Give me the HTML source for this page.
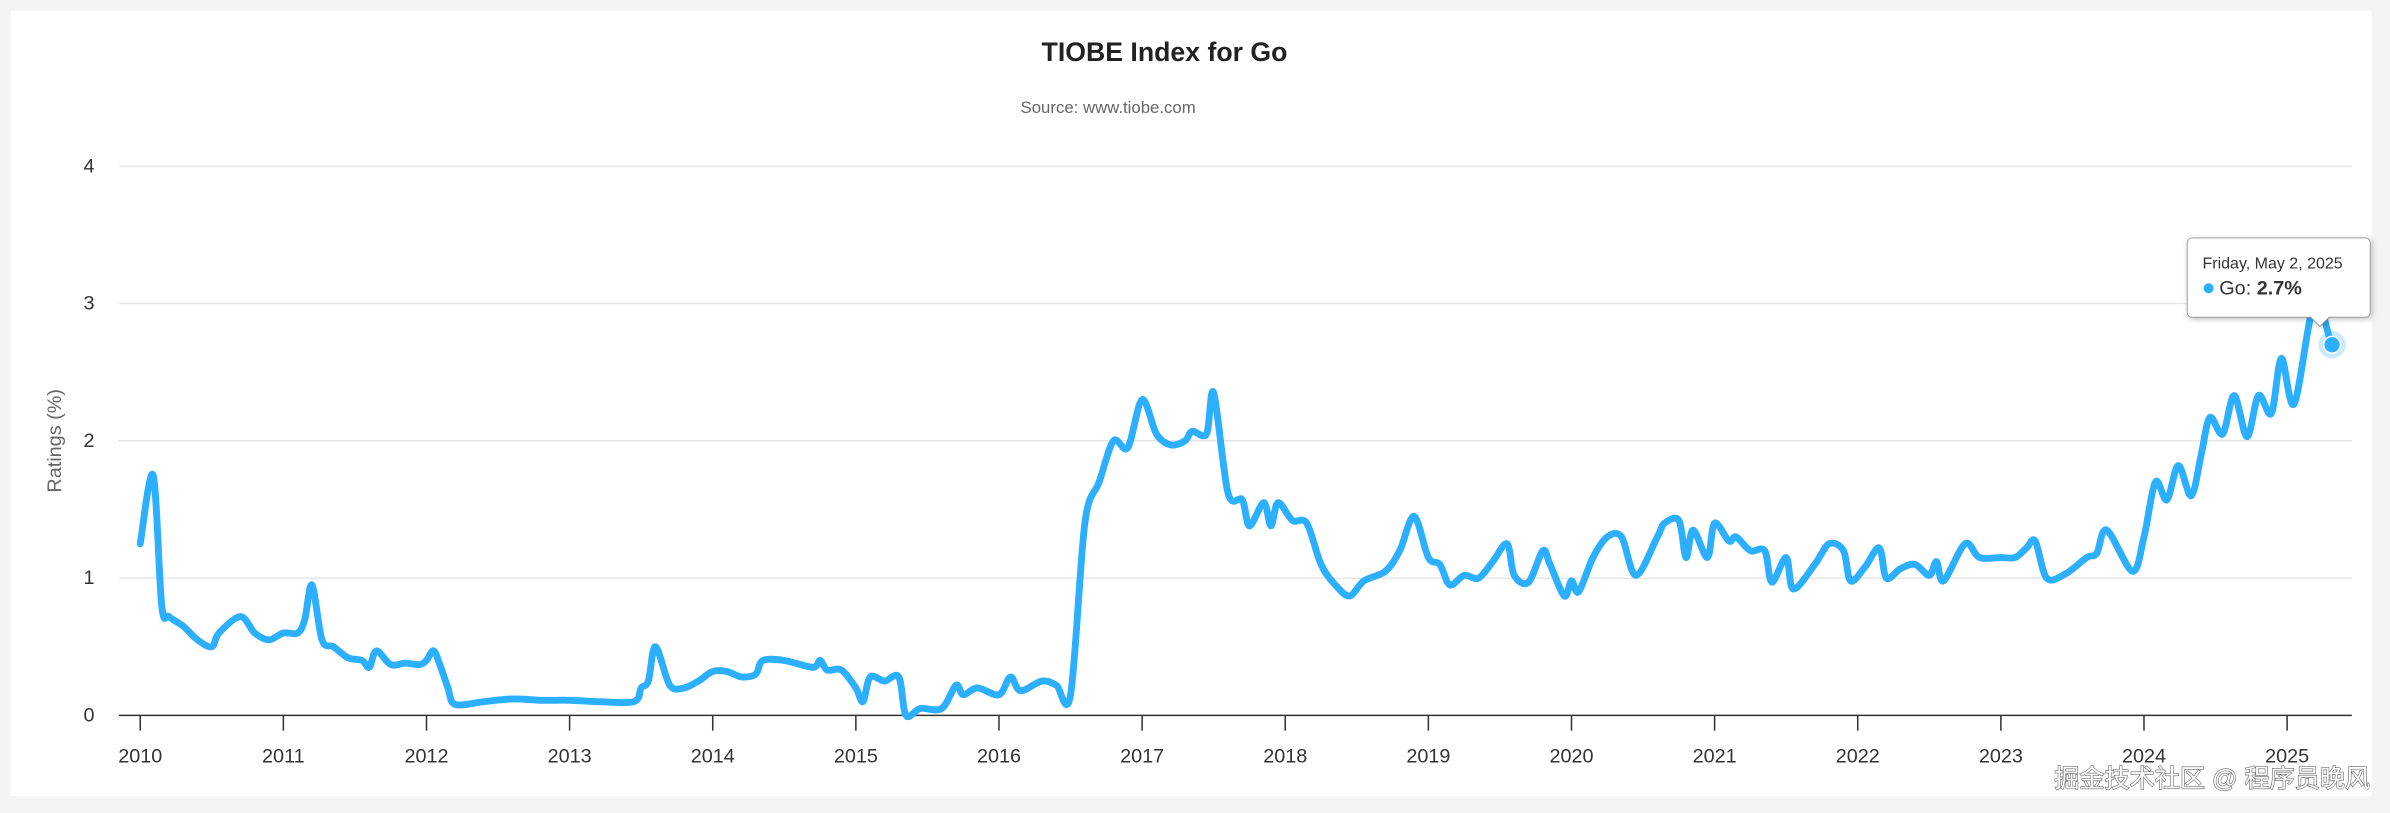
<!DOCTYPE html>
<html><head><meta charset="utf-8">
<style>
html,body{margin:0;padding:0;background:#f4f4f4;width:2390px;height:813px;overflow:hidden;}
svg{display:block;}
text{font-family:"Liberation Sans","Noto Sans CJK SC",sans-serif;}
</style></head>
<body>
<svg id="s" width="2390" height="813" viewBox="0 0 1568 533" preserveAspectRatio="none" xmlns="http://www.w3.org/2000/svg">
<rect x="0" y="0" width="1568" height="533" fill="#f4f4f4"/>
<rect x="7" y="7" width="1549" height="515" fill="#ffffff"/>
<text x="764" y="40" text-anchor="middle" font-size="17.5" font-weight="bold" fill="#222">TIOBE Index for Go</text>
<text x="727" y="74" text-anchor="middle" font-size="11" fill="#666">Source: www.tiobe.com</text>
<g stroke="#e6e6e6" stroke-width="1">
<line x1="78" x2="1543" y1="109" y2="109"/>
<line x1="78" x2="1543" y1="199" y2="199"/>
<line x1="78" x2="1543" y1="289" y2="289"/>
<line x1="78" x2="1543" y1="379" y2="379"/>
</g>
<line x1="78" x2="1543" y1="469" y2="469" stroke="#333" stroke-width="1"/>
<g font-size="13" fill="#333" text-anchor="end">
<text x="62" y="113">4</text><text x="62" y="203">3</text><text x="62" y="293">2</text><text x="62" y="383">1</text><text x="62" y="473">0</text>
</g>
<text transform="translate(40,289) rotate(-90)" text-anchor="middle" font-size="13" fill="#666">Ratings (%)</text>
<g id="ticks"></g>
<path id="line" fill="none" stroke="#2caffe" stroke-width="4.5" stroke-linejoin="round" stroke-linecap="round"/>
<circle cx="1530" cy="226" r="9" fill="#2caffe" opacity="0.25"/>
<circle cx="1530" cy="226" r="5.5" fill="#2caffe" stroke="#fff" stroke-width="1"/>
<path d="M1438,156 h114 a3,3 0 0 1 3,3 v46 a3,3 0 0 1 -3,3 h-24 l-6,6 l-6,-6 h-78 a3,3 0 0 1 -3,-3 v-46 a3,3 0 0 1 3,-3z" fill="#fff" stroke="#999" stroke-width="0.6" style="filter:drop-shadow(1px 1px 2px rgba(0,0,0,0.25))"/>
<text x="1445" y="176" font-size="10.5" fill="#333">Friday, May 2, 2025</text>
<circle cx="1449" cy="189" r="3.3" fill="#2caffe"/>
<text x="1456" y="193" font-size="13" fill="#333">Go: <tspan font-weight="bold">2.7%</tspan></text>
<text x="1555" y="516" text-anchor="end" font-size="16.5" fill="#fff" stroke="#666" stroke-width="0.8" paint-order="stroke">掘金技术社区 @ 程序员晚风</text>
</svg>
<script>
var X=function(t){return 92+93.9*(t-2010);},Y=function(v){return 469-90*v;};
var g=document.getElementById('ticks'),h='';
for(var y=2010;y<=2025;y++){var x=X(y);h+='<line x1="'+x+'" x2="'+x+'" y1="469" y2="479" stroke="#333" stroke-width="1"/><text x="'+x+'" y="500" text-anchor="middle" font-size="13" fill="#333">'+y+'</text>';}
g.innerHTML=h;
var d=[2010,1.25,2010.09,1.75,2010.15,0.8,2010.2,0.72,2010.3,0.65,2010.4,0.55,2010.5,0.5,2010.55,0.6,2010.7,0.72,2010.8,0.6,2010.9,0.55,2011,0.6,2011.1,0.6,2011.15,0.7,2011.2,0.95,2011.27,0.55,2011.35,0.5,2011.45,0.42,2011.55,0.4,2011.6,0.35,2011.65,0.47,2011.75,0.37,2011.85,0.38,2011.95,0.37,2012,0.4,2012.05,0.47,2012.1,0.35,2012.15,0.2,2012.2,0.08,2012.4,0.1,2012.6,0.12,2012.8,0.11,2013,0.11,2013.2,0.1,2013.45,0.1,2013.5,0.2,2013.55,0.25,2013.6,0.5,2013.7,0.22,2013.8,0.2,2013.9,0.25,2014,0.32,2014.1,0.32,2014.2,0.28,2014.3,0.3,2014.35,0.4,2014.5,0.4,2014.7,0.35,2014.75,0.4,2014.8,0.33,2014.9,0.33,2015,0.2,2015.05,0.1,2015.1,0.28,2015.2,0.25,2015.3,0.28,2015.35,0.0,2015.45,0.05,2015.6,0.05,2015.7,0.22,2015.75,0.15,2015.85,0.2,2016,0.15,2016.08,0.28,2016.15,0.18,2016.3,0.25,2016.4,0.22,2016.5,0.15,2016.6,1.4,2016.7,1.7,2016.8,2.0,2016.9,1.95,2017,2.3,2017.1,2.05,2017.2,1.97,2017.3,2.0,2017.35,2.07,2017.45,2.05,2017.5,2.35,2017.6,1.62,2017.7,1.57,2017.75,1.38,2017.85,1.55,2017.9,1.38,2017.95,1.55,2018.05,1.42,2018.15,1.4,2018.25,1.1,2018.35,0.95,2018.45,0.87,2018.55,0.98,2018.7,1.05,2018.8,1.2,2018.9,1.45,2019,1.15,2019.08,1.1,2019.15,0.95,2019.25,1.02,2019.35,1.0,2019.45,1.12,2019.55,1.25,2019.6,1.02,2019.7,0.97,2019.8,1.2,2019.85,1.1,2019.95,0.87,2020,0.98,2020.05,0.9,2020.15,1.15,2020.25,1.3,2020.35,1.3,2020.45,1.02,2020.6,1.3,2020.65,1.4,2020.75,1.42,2020.8,1.15,2020.85,1.35,2020.95,1.15,2021,1.4,2021.1,1.27,2021.15,1.3,2021.25,1.2,2021.35,1.2,2021.4,0.97,2021.5,1.15,2021.55,0.92,2021.7,1.1,2021.8,1.25,2021.9,1.2,2021.95,0.98,2022.05,1.08,2022.15,1.22,2022.2,1.0,2022.3,1.07,2022.4,1.1,2022.5,1.02,2022.55,1.12,2022.6,0.98,2022.75,1.25,2022.85,1.15,
2023,1.15,2023.1,1.15,2023.18,1.22,2023.24,1.27,2023.32,1.0,2023.45,1.03,2023.6,1.15,2023.67,1.18,2023.74,1.35,2023.92,1.05,2024.0,1.3,2024.08,1.7,2024.16,1.57,2024.24,1.82,2024.33,1.6,2024.4,1.9,2024.46,2.17,2024.55,2.05,2024.63,2.33,2024.72,2.03,2024.80,2.33,2024.89,2.2,2024.96,2.6,2025.05,2.27,2025.19,3.0,2025.31,2.7];
var p=[];for(var i=0;i<d.length;i+=2)p.push([X(d[i]),Y(d[i+1])]);
var s='M'+p[0][0]+','+p[0][1];
for(var i=0;i<p.length-1;i++){var a=p[i-1]||p[i],b=p[i],c=p[i+1],e=p[i+2]||c,k=0.16;
s+=' C'+(b[0]+(c[0]-a[0])*k)+','+(b[1]+(c[1]-a[1])*k)+' '+(c[0]-(e[0]-b[0])*k)+','+(c[1]-(e[1]-b[1])*k)+' '+c[0]+','+c[1];}
document.getElementById('line').setAttribute('d',s);
</script>
</body></html>
